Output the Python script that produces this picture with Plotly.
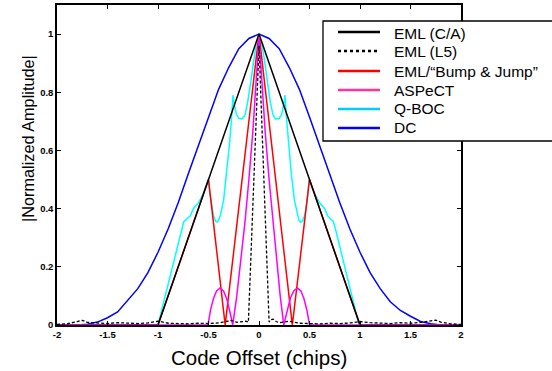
import plotly.graph_objects as go

# ---------------- data ----------------
ca_x = [-2, -1, 0, 1, 2]
ca_y = [0, 0, 1, 0, 0]

l5_x = [-2, -1.9, -1.8, -1.75, -1.7, -1.6, -1.5, -1.4, -1.3, -1.2, -1.1, -1.0, -0.95, -0.9, -0.8, -0.7,
        -0.6, -0.5, -0.4, -0.32, -0.27, -0.22, -0.17, -0.13, -0.105, 0, 0.1, 0.115, 0.14, 0.17, 0.2,
        0.25, 0.3, 0.4, 0.5, 0.6, 0.7, 0.8, 0.9, 1.0, 1.1, 1.2, 1.3, 1.4, 1.5, 1.6, 1.7, 1.75, 1.8, 1.9, 2]
l5_y = [0.002, 0.004, 0.012, 0.016, 0.009, 0.006, 0.005, 0.008, 0.006, 0.005, 0.007, 0.013, 0.01, 0.006,
        0.005, 0.004, 0.006, 0.005, 0.007, 0.012, 0.016, 0.009, 0.011, 0.013, 0.01, 0.96, 0.01, 0.018,
        0.02, 0.012, 0.008, 0.01, 0.013, 0.006, 0.005, 0.004, 0.006, 0.005, 0.007, 0.012, 0.008, 0.006,
        0.005, 0.008, 0.006, 0.009, 0.015, 0.017, 0.01, 0.004, 0.002]

bj_x = [-2, -1, -0.5, -0.335, 0, 0.33, 0.5, 1, 2]
bj_y = [0, 0, 0.5, 0, 1, 0, 0.5, 0, 0]

asp_x = [-2, -0.505, -0.48, -0.45, -0.42, -0.386, -0.35, -0.32, -0.29, -0.26, -0.22, -0.18, -0.14,
         -0.1, -0.06, -0.03, 0, 0.03, 0.06, 0.1, 0.14, 0.18, 0.21, 0.245, 0.28, 0.31, 0.345, 0.38,
         0.415, 0.445, 0.475, 0.5, 2]
asp_y = [0, 0, 0.052, 0.092, 0.117, 0.127, 0.116, 0.09, 0.048, 0, 0.1, 0.22, 0.35, 0.5, 0.67, 0.83,
         0.99, 0.83, 0.67, 0.5, 0.35, 0.2, 0.1, 0, 0.05, 0.092, 0.118, 0.127, 0.117, 0.09, 0.05, 0, 0]

qboc_x = [-2, -1.0, -0.95, -0.9, -0.85, -0.8, -0.76, -0.745, -0.73, -0.71, -0.68, -0.65, -0.6, -0.56,
          -0.53, -0.5, -0.49, -0.47, -0.45, -0.43, -0.415, -0.4, -0.38, -0.35, -0.32, -0.29, -0.27,
          -0.257, -0.245, -0.225, -0.2, -0.17, -0.14, -0.11, -0.08, -0.05, -0.03, 0,
          0.03, 0.05, 0.08, 0.11, 0.14, 0.165, 0.2, 0.225, 0.245, 0.257, 0.27, 0.29, 0.32, 0.35, 0.38,
          0.395, 0.41, 0.43, 0.45, 0.47, 0.485, 0.497, 0.53, 0.56, 0.6, 0.65, 0.68, 0.71, 0.735, 0.75,
          0.8, 0.85, 0.9, 0.95, 0.99, 2]
qboc_y = [0, 0, 0.07, 0.14, 0.21, 0.28, 0.34, 0.355, 0.36, 0.365, 0.375, 0.40, 0.42, 0.445, 0.47,
          0.5, 0.46, 0.41, 0.375, 0.357, 0.354, 0.36, 0.38, 0.43, 0.52, 0.63, 0.72, 0.79, 0.76,
          0.725, 0.71, 0.708, 0.72, 0.77, 0.84, 0.92, 0.96, 1.0,
          0.96, 0.92, 0.84, 0.77, 0.72, 0.708, 0.71, 0.725, 0.76, 0.79, 0.72, 0.63, 0.52, 0.43, 0.38,
          0.36, 0.354, 0.357, 0.375, 0.41, 0.46, 0.5, 0.47, 0.445, 0.42, 0.40, 0.375, 0.365, 0.356,
          0.34, 0.27, 0.2, 0.13, 0.06, 0.0, 0]

dc_x = [-1.8, -1.7, -1.6, -1.5, -1.4, -1.3, -1.2, -1.1, -1.0, -0.9, -0.8, -0.7, -0.6, -0.5, -0.4,
        -0.3, -0.2, -0.1, 0, 0.1, 0.2, 0.3, 0.4, 0.5, 0.6, 0.7, 0.8, 0.9, 1.0, 1.1, 1.2, 1.3, 1.4,
        1.5, 1.6, 1.7, 1.8]
dc_y = [0, 0.003, 0.01, 0.025, 0.045, 0.085, 0.125, 0.18, 0.25, 0.33, 0.42, 0.52, 0.615, 0.715,
        0.81, 0.885, 0.95, 0.985, 1.0, 0.985, 0.95, 0.885, 0.81, 0.715, 0.615, 0.52, 0.42, 0.33,
        0.25, 0.18, 0.125, 0.08, 0.05, 0.03, 0.012, 0.004, 0]

x_tickvals = [-2, -1.5, -1, -0.5, 0, 0.5, 1, 1.5, 2]
x_ticktext = ["-2", "-1.5", "-1", "-0.5", "0", "0.5", "1", "1.5", "2"]
y_tickvals = [0, 0.2, 0.4, 0.6, 0.8, 1]
y_ticktext = ["0", "0.2", "0.4", "0.6", "0.8", "1"]

legend_labels = ["EML (C/A)", "EML (L5)", "EML/\u201cBump & Jump\u201d", "ASPeCT", "Q-BOC", "DC"]
legend_colors = ["#000000", "#000000", "#ff0000", "#ff3399", "#00ccff", "#0000ff"]
legend_dash = ["solid", "dot", "solid", "solid", "solid", "solid"]

# ---------------- figure ----------------
W, H = 552, 371
ML, MR, MT, MB = 57, 91, 5, 46
PW, PH = W - ML - MR, H - MT - MB

def px(xp):
    return (xp - ML) / PW

def py(yp):
    return (H - MB - yp) / PH

fig = go.Figure()
fig.add_trace(go.Scatter(x=dc_x, y=dc_y, mode="lines", line=dict(color="#0000ff", width=1.5), showlegend=False))
fig.add_trace(go.Scatter(x=qboc_x, y=qboc_y, mode="lines", line=dict(color="#00ffff", width=1.5), showlegend=False))
fig.add_trace(go.Scatter(x=bj_x, y=bj_y, mode="lines", line=dict(color="#ff0000", width=1.5), showlegend=False))
fig.add_trace(go.Scatter(x=ca_x, y=ca_y, mode="lines", line=dict(color="#000000", width=1.5), showlegend=False))
fig.add_trace(go.Scatter(x=asp_x, y=asp_y, mode="lines", line=dict(color="#ff00ff", width=1.5), showlegend=False))
fig.add_trace(go.Scatter(x=l5_x, y=l5_y, mode="lines", line=dict(color="#000000", width=1.3, dash="3px,2px"), showlegend=False))

font_family = "Liberation Sans, Arial, sans-serif"

axis_common = dict(showline=True, linecolor="black", linewidth=1.5, mirror="ticks",
                   ticks="inside", ticklen=4, tickcolor="black", tickwidth=1,
                   showgrid=False, zeroline=False,
                   tickfont=dict(family=font_family, size=9.5, color="black", weight="bold"))

fig.update_xaxes(range=[-2, 2], tickvals=x_tickvals, ticktext=x_ticktext, **axis_common)
fig.update_yaxes(range=[0, 1.1], tickvals=y_tickvals, ticktext=y_ticktext, **axis_common)

shapes = []
annotations = []
# legend box
shapes.append(dict(type="rect", xref="paper", yref="paper", x0=px(323), x1=px(570), y0=py(141), y1=py(21),
                   line=dict(color="black", width=1.3), fillcolor="white", layer="above"))
sw_y = [32, 51, 71, 90, 109, 128]
tx_y = [33, 51, 71, 90, 109, 127]
for i, lab in enumerate(legend_labels):
    shapes.append(dict(type="line", xref="paper", yref="paper", x0=px(338), x1=px(380),
                       y0=py(sw_y[i]), y1=py(sw_y[i]),
                       line=dict(color=legend_colors[i], width=2.5, dash=legend_dash[i]), layer="above"))
    annotations.append(dict(text=lab, xref="paper", yref="paper", x=px(393), y=py(tx_y[i]),
                            xanchor="left", yanchor="middle", showarrow=False, borderpad=0,
                            font=dict(family=font_family, size=15.5, color="black")))

annotations.append(dict(text="Code Offset (chips)", xref="paper", yref="paper", x=px(258.5), y=py(357),
                        xanchor="center", yanchor="middle", showarrow=False,
                        font=dict(family=font_family, size=20.5, color="black")))
annotations.append(dict(text="|Normalized Amplitude|", xref="paper", yref="paper", x=px(28), y=py(139),
                        xanchor="center", yanchor="middle", showarrow=False, textangle=-90,
                        font=dict(family=font_family, size=16.3, color="black")))

fig.update_layout(width=W, height=H, margin=dict(l=ML, r=MR, t=MT, b=MB, autoexpand=False),
                  paper_bgcolor="white", plot_bgcolor="white", showlegend=False,
                  shapes=shapes, annotations=annotations,
                  font=dict(family=font_family, color="black"))

fig.write_html("out.html")
